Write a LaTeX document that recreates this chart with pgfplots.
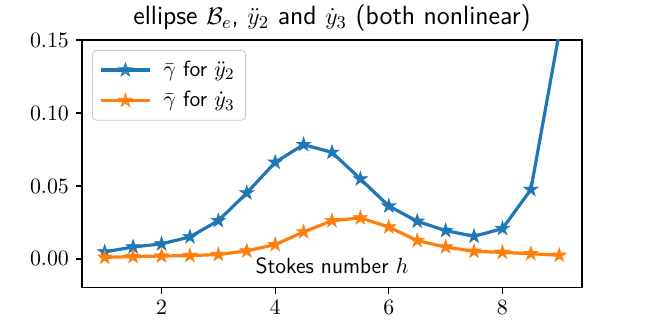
\documentclass[border=0pt]{standalone}
\usepackage{pgfplots}
\pgfplotsset{compat=1.18}
\definecolor{C0}{HTML}{1F77B4}
\definecolor{C1}{HTML}{FF7F0E}
\pgfdeclareplotmark{fstar}{%
  \pgfpathmoveto{\pgfpointpolar{90}{\pgfplotmarksize}}%
  \pgfpathlineto{\pgfpointpolar{126}{0.382\pgfplotmarksize}}%
  \pgfpathlineto{\pgfpointpolar{162}{\pgfplotmarksize}}%
  \pgfpathlineto{\pgfpointpolar{198}{0.382\pgfplotmarksize}}%
  \pgfpathlineto{\pgfpointpolar{234}{\pgfplotmarksize}}%
  \pgfpathlineto{\pgfpointpolar{270}{0.382\pgfplotmarksize}}%
  \pgfpathlineto{\pgfpointpolar{306}{\pgfplotmarksize}}%
  \pgfpathlineto{\pgfpointpolar{342}{0.382\pgfplotmarksize}}%
  \pgfpathlineto{\pgfpointpolar{18}{\pgfplotmarksize}}%
  \pgfpathlineto{\pgfpointpolar{54}{0.382\pgfplotmarksize}}%
  \pgfpathclose
  \pgfusepathqfillstroke
}
\pgfplotstableread{
x y2 y3
1.0 0.0048 0.0011
1.5 0.0082 0.0016
2.0 0.0103 0.0020
2.5 0.0151 0.0023
3.0 0.0262 0.0030
3.5 0.0452 0.0055
4.0 0.0662 0.0098
4.5 0.0783 0.0185
5.0 0.0730 0.0262
5.5 0.0548 0.0281
6.0 0.0362 0.0219
6.5 0.0258 0.0125
7.0 0.0194 0.0082
7.5 0.0155 0.0052
8.0 0.0208 0.0045
8.5 0.0475 0.0036
9.0 0.1550 0.0025
}\datatable
\begin{document}
\begin{tikzpicture}
\useasboundingbox (0,0) rectangle (324pt,162pt);
\begin{axis}[
  at={(41pt,18.15pt)}, anchor=south west,
  scale only axis, width=250pt, height=123.85pt,
  xmin=0.6, xmax=9.4, ymin=-0.0197, ymax=0.15,
  xtick={2,4,6,8}, ytick={0,0.05,0.10,0.15},
  yticklabel style={/pgf/number format/.cd, fixed, fixed zerofill, precision=2},
  tick label style={font=\fontsize{10.9}{12}\selectfont},
  tick align=outside, tick pos=left, major tick length=3pt,
  every tick/.style={black, line width=0.6pt},
  axis line style={line width=0.7pt},
  clip mode=individual,
  title={\sffamily ellipse $\mathcal{B}_e$, $\ddot y_2$ and $\dot y_3$ (both nonlinear)},
  title style={at={(axis description cs:0.5,1)}, anchor=base, yshift=1.5pt, font=\fontsize{13.2}{15}\selectfont},
  xlabel={\sffamily Stokes number $h$},
  xlabel style={at={(axis description cs:0.5,0)}, anchor=base, yshift=6.85pt, font=\fontsize{11}{12}\selectfont},
  legend style={at={(axis description cs:0,1)}, xshift=5pt, yshift=-5pt, anchor=north west,
    draw=black!20, rounded corners=2pt, fill=white, fill opacity=0.8, text opacity=1,
    font=\fontsize{11}{12}\selectfont, inner xsep=3.5pt, inner ysep=3.2pt, row sep=2pt,
    nodes={inner ysep=2pt, inner xsep=2pt}},
  legend cell align=left,
  legend image code/.code={\draw[mark repeat=2,mark phase=2,#1] plot coordinates {(0pt,0pt) (12.2pt,0pt) (24.4pt,0pt)};},
]
\addplot[C0, line width=1.6pt, mark=fstar, mark size=3.6pt, mark options={line width=0.4pt, fill=C0}] table[x=x,y=y2] {\datatable};
\addlegendentry{\hspace*{4pt}$\bar\gamma$ \sffamily for $\ddot y_2$}
\addplot[C1, line width=1.6pt, mark=fstar, mark size=3.6pt, mark options={line width=0.4pt, fill=C1}] table[x=x,y=y3] {\datatable};
\addlegendentry{\hspace*{4pt}$\bar\gamma$ \sffamily for $\dot y_3$}
\end{axis}
\end{tikzpicture}
\end{document}
